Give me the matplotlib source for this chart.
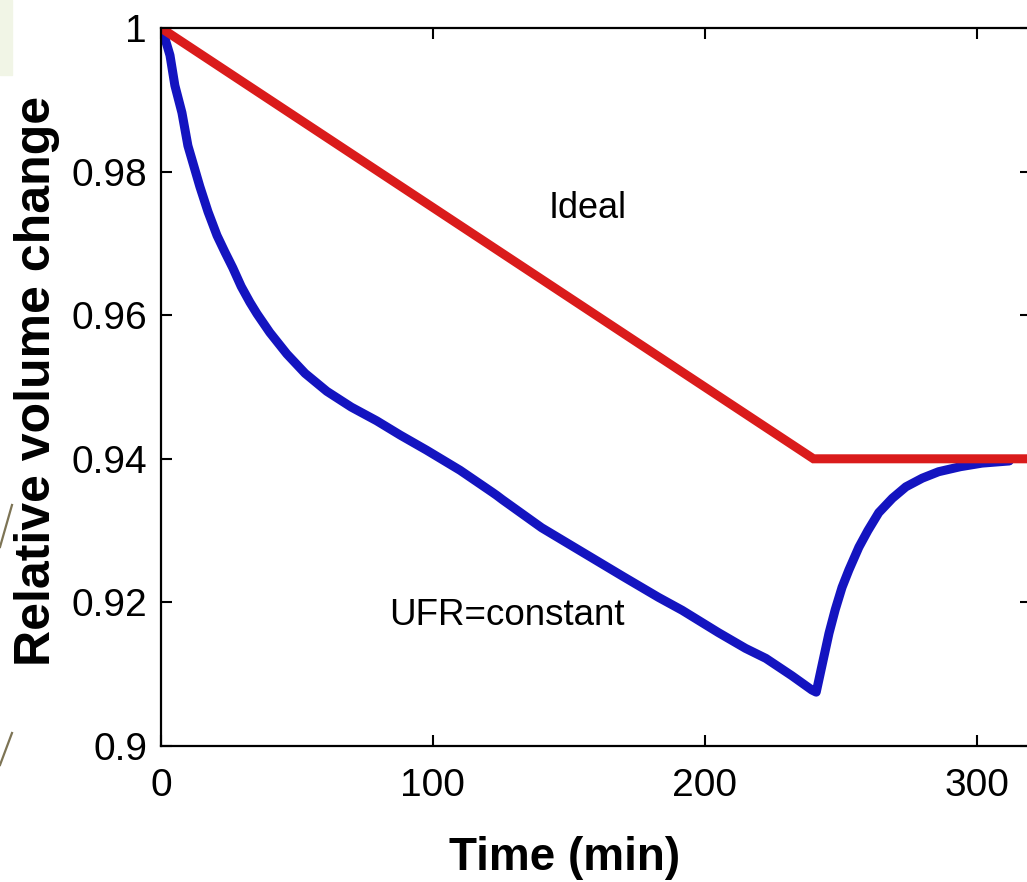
import matplotlib
matplotlib.use("Agg")
import matplotlib.pyplot as plt
from matplotlib.lines import Line2D
from matplotlib.patches import Rectangle

plt.rcParams['font.family'] = ['Liberation Sans', 'DejaVu Sans']

# ideal volume profile (red)
t_ideal = [0, 240, 320]
v_ideal = [1.0, 0.94, 0.94]

# constant UFR profile (blue)
t_ufr = [0, 1.5, 3.3, 5.1, 7.7, 9.9, 14.3, 17.3, 20.6, 23.5, 26.4, 29.5, 32.7,
         35.3, 40, 46.3, 53, 61, 70, 79.3, 88, 97.7, 110, 122, 123.5, 125.6,
         140, 155, 170, 183, 191.7, 205, 215, 222.5, 232, 239.4, 241, 243,
         245.7, 248, 250.5, 253, 256.7, 260, 264, 269, 274, 280, 286, 294,
         302, 312]
v_ufr = [1.0, 0.9985, 0.9962, 0.9920, 0.9882, 0.9836, 0.9779, 0.9744, 0.9711,
         0.9688, 0.9666, 0.9640, 0.9618, 0.9602, 0.9576, 0.9546, 0.9519,
         0.9494, 0.9472, 0.9453, 0.9433, 0.9412, 0.9384, 0.9353, 0.9349,
         0.9343, 0.9304, 0.9270, 0.9236, 0.9207, 0.9189, 0.9158, 0.9136,
         0.9122, 0.9098, 0.9078, 0.9075, 0.9110, 0.9157, 0.9190, 0.9221,
         0.9245, 0.9277, 0.9300, 0.9325, 0.9345, 0.9361, 0.9373, 0.9382,
         0.9389, 0.9394, 0.9397]

xticks = [0, 100, 200, 300]
yticks = [0.9, 0.92, 0.94, 0.96, 0.98, 1.0]
ytick_labels = ['0.9', '0.92', '0.94', '0.96', '0.98', '1']

fig = plt.figure(figsize=(10.27, 8.82), dpi=100)

# slide decoration on the left edge
fig.patches.append(Rectangle((0, 1 - 75 / 882), 12 / 1027, 75 / 882,
                             transform=fig.transFigure, color='#f1f5e6', zorder=0))
for (x0, y0, x1, y1) in [(0, 547, 12, 505), (0, 765, 12, 733)]:
    fig.lines.append(Line2D([x0 / 1027, x1 / 1027], [1 - y0 / 882, 1 - y1 / 882],
                            transform=fig.transFigure, color='#7d7455', lw=1.6))

ax = fig.add_axes([161 / 1027, 136 / 882, 870 / 1027, 718 / 882])

ax.plot(t_ufr, v_ufr, color='#1414c0', lw=6.5, solid_capstyle='round',
        solid_joinstyle='round')
ax.plot(t_ideal, v_ideal, color='#da1b1b', lw=6.5, solid_joinstyle='miter')

ax.set_xlim(0, 320)
ax.set_ylim(0.9, 1.0)
ax.set_xticks(xticks)
ax.set_yticks(yticks)
ax.set_yticklabels(ytick_labels)
ax.tick_params(direction='in', length=8, width=1.5, top=True, right=True,
               labelsize=28, pad=10)
ax.tick_params(axis='x', pad=16)
for s in ax.spines.values():
    s.set_linewidth(1.6)

ax.text(156.8, 0.9749, 'Ideal', fontsize=26, ha='center', va='center')
ax.text(127.4, 0.9182, 'UFR=constant', fontsize=26.5, ha='center', va='center')

ax.set_xlabel('Time (min)', fontsize=33, fontweight='bold')
ax.set_ylabel('Relative volume change', fontsize=36, fontweight='bold')
ax.xaxis.set_label_coords(0.464, -0.125)
ax.yaxis.set_label_coords(-0.116, 0.508)

fig.savefig('out.png', dpi=100)
